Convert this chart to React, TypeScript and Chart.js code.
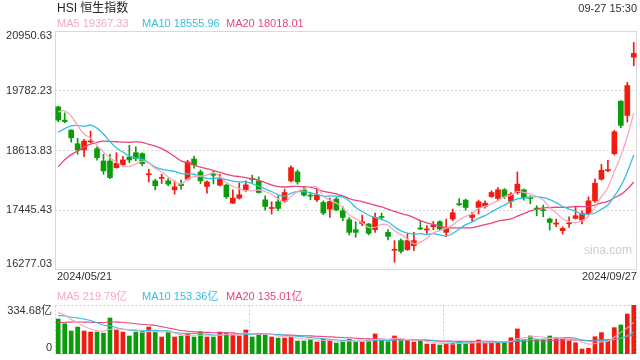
import React, { useEffect, useRef } from "react";
import { Chart, registerables } from "chart.js";

Chart.register(...registerables);

const FONT = '"Liberation Sans", Arial, "Noto Sans CJK SC", sans-serif';

const dates = [
  "2024/05/21", "2024/05/22", "2024/05/23", "2024/05/24", "2024/05/27", "2024/05/28", "2024/05/29", "2024/05/30", "2024/05/31",
  "2024/06/03", "2024/06/04", "2024/06/05", "2024/06/06", "2024/06/07", "2024/06/11", "2024/06/12", "2024/06/13", "2024/06/14",
  "2024/06/17", "2024/06/18", "2024/06/19", "2024/06/20", "2024/06/21", "2024/06/24", "2024/06/25", "2024/06/26", "2024/06/27", "2024/06/28",
  "2024/07/02", "2024/07/03", "2024/07/04", "2024/07/05", "2024/07/08", "2024/07/09", "2024/07/10", "2024/07/11", "2024/07/12",
  "2024/07/15", "2024/07/16", "2024/07/17", "2024/07/18", "2024/07/19", "2024/07/22", "2024/07/23", "2024/07/24", "2024/07/25", "2024/07/26",
  "2024/07/29", "2024/07/30", "2024/07/31", "2024/08/01", "2024/08/02", "2024/08/05", "2024/08/06", "2024/08/07", "2024/08/08", "2024/08/09",
  "2024/08/12", "2024/08/13", "2024/08/14", "2024/08/15", "2024/08/16", "2024/08/19", "2024/08/20", "2024/08/21", "2024/08/22", "2024/08/23",
  "2024/08/26", "2024/08/27", "2024/08/28", "2024/08/29", "2024/08/30", "2024/09/02", "2024/09/03", "2024/09/04", "2024/09/05",
  "2024/09/09", "2024/09/10", "2024/09/11", "2024/09/12", "2024/09/13", "2024/09/16", "2024/09/17", "2024/09/19", "2024/09/20",
  "2024/09/23", "2024/09/24", "2024/09/25", "2024/09/26", "2024/09/27",
];

const opens = [
  19467, 19208, 19013, 18746, 18624, 18780, 18649, 18409, 18409, 18279,
  18332, 18487, 18571, 18552, 18140, 18020, 18070, 18020, 17845, 17956,
  18053, 18448, 18195, 17909, 18160, 17936, 17936, 17586, 17683, 17845,
  18060, 18020, 17650, 17480, 17611, 17617, 18020, 18195, 17845, 17735,
  17650, 17597, 17469, 17664, 17436, 17260, 17066, 17188, 17177, 17066,
  17320, 17013, 16663, 16852, 16676, 16754, 17090, 17060, 17124, 17222,
  17013, 17274, 17570, 17644, 17305, 17500, 17520, 17714, 17675, 17845,
  17617, 17792, 17845, 17690, 17480, 17450, 17274, 17175, 17046, 17180,
  17286, 17254, 17383, 17630, 18053, 18220, 18552, 19578, 19299, 20440,
];
const highs = [
  19480, 19350, 19020, 18851, 18832, 18994, 18688, 18540, 18540, 18571,
  18500, 18715, 18688, 18571, 18248, 18053, 18150, 18065, 18020, 18034,
  18423, 18507, 18234, 18020, 18215, 18150, 17956, 17845, 17981, 18020,
  18131, 18098, 17728, 17611, 17728, 17858, 18312, 18234, 17909, 17792,
  17858, 17630, 17683, 17695, 17514, 17305, 17222, 17352, 17188, 17391,
  17391, 17066, 16852, 16885, 16982, 17013, 17227, 17144, 17227, 17241,
  17274, 17469, 17675, 17664, 17403, 17644, 17630, 17825, 17889, 17870,
  17792, 18195, 17858, 17728, 17533, 17547, 17293, 17274, 17124, 17319,
  17514, 17436, 17708, 18053, 18345, 18423, 19007, 19591, 19948, 20727,
];
const lows = [
  19175, 19155, 18779, 18540, 18493, 18766, 18423, 18150, 18065, 18267,
  18330, 18376, 18409, 18312, 18000, 17845, 17967, 17923, 17761, 17858,
  18034, 18267, 17967, 17780, 17960, 17923, 17675, 17572, 17664, 17806,
  17987, 17780, 17449, 17372, 17436, 17597, 18000, 17956, 17722, 17650,
  17611, 17358, 17305, 17436, 17241, 16963, 16916, 17144, 16963, 17013,
  17260, 16865, 16429, 16604, 16660, 16657, 17066, 16994, 17066, 17046,
  16930, 17241, 17533, 17449, 17227, 17372, 17488, 17695, 17630, 17675,
  17500, 17761, 17644, 17572, 17338, 17319, 17060, 17124, 16980, 17111,
  17274, 17177, 17372, 17597, 18034, 18201, 18526, 19058, 19169, 20270,
];
const closes = [
  19208, 19180, 18863, 18624, 18799, 18800, 18474, 18215, 18084, 18365,
  18429, 18429, 18454, 18357, 18160, 17923, 18090, 17956, 17903, 17928,
  18390, 18332, 18020, 18000, 18130, 18053, 17708, 17683, 17747, 17942,
  18045, 17792, 17520, 17495, 17481, 17792, 18279, 18000, 17741, 17722,
  17747, 17391, 17617, 17449, 17305, 17013, 17013, 17222, 16994, 17305,
  17305, 16935, 16676, 16643, 16852, 16852, 17079, 17070, 17157, 17079,
  17091, 17397, 17553, 17500, 17358, 17611, 17586, 17792, 17845, 17714,
  17761, 17956, 17695, 17675, 17469, 17436, 17208, 17190, 17091, 17196,
  17338, 17383, 17630, 17975, 18228, 18235, 18980, 19105, 19884, 20512,
];
// volume in 亿
const volumes = [
  239, 207, 157, 184, 157, 150, 150, 143, 246, 164,
  150, 123, 150, 157, 184, 150, 116, 150, 116, 123,
  137, 116, 150, 116, 116, 150, 143, 137, 123, 164,
  116, 137, 137, 116, 109, 109, 116, 89, 89, 100,
  82, 100, 89, 75, 83, 101, 84, 84, 96, 137,
  96, 84, 123, 91, 91, 82, 91, 68, 68, 61,
  73, 73, 84, 73, 84, 96, 73, 80, 84, 84,
  111, 171, 96, 123, 96, 96, 123, 111, 102, 89,
  77, 34, 39, 118, 146, 96, 180, 198, 273, 334.68,
];
// sessions before the first shown date (feed the moving averages)
const priorCloses = [
  16511, 16829, 17201, 17284, 17651, 17747, 17763, 18207, 18476, 18578,
  18479, 18313, 18537, 18963, 18575, 19073, 19376, 19553, 19636,
];
const priorVolumes = [
  150, 140, 160, 175, 170, 180, 165, 160, 180, 180,
  220, 250, 230, 245, 250, 300, 310, 286, 290,
];

const priceTicks = [16277.03, 17445.43, 18613.83, 19782.23, 20950.63];
const volumeTicks = [0, 334.68];
const maPeriods = [5, 10, 20];
const priceMaLabels = ["MA5 19367.33", "MA10 18555.96", "MA20 18018.01"];
const volumeMaLabels = ["MA5 219.79亿", "MA10 153.36亿", "MA20 135.01亿"];
const maColors = ["#f7a6c2", "#33c0e0", "#e8467c"];
const UP = "#f21b0f";
const DOWN = "#0a9d0a";

function movingAverage(values: number[], prior: number[], p: number): number[] {
  const all = [...prior, ...values];
  return values.map((_, i) => {
    const end = prior.length + i;
    let s = 0;
    for (let k = end - p + 1; k <= end; k++) s += all[k];
    return s / p;
  });
}

function makeFrame(dash: number[] | null, color: string, thirds: boolean) {
  return {
    id: "frame",
    beforeDatasetsDraw(chart: any) {
      const { ctx, chartArea: a } = chart;
      ctx.save();
      ctx.strokeStyle = color;
      ctx.lineWidth = 1;
      if (dash) ctx.setLineDash(dash);
      const l = Math.round(a.left) + 0.5;
      const t = Math.round(a.top) + 0.5;
      const r = Math.round(a.right) - 0.5;
      const b = Math.round(a.bottom) - 0.5;
      ctx.strokeRect(l, t, r - l, b - t);
      if (thirds) {
        for (let k = 1; k <= 2; k++) {
          const x = Math.round(a.left + (a.width * k) / 3) + 0.5;
          ctx.beginPath();
          ctx.moveTo(x, t);
          ctx.lineTo(x, b);
          ctx.stroke();
        }
      }
      ctx.restore();
    },
  };
}

function makeLabels(ticks: number[], fmt: (v: number) => string, edgeTop: number, edgeBottom: number) {
  return {
    id: "axisLabels",
    afterDraw(chart: any) {
      const { ctx, chartArea } = chart;
      const scale = chart.scales.y;
      ctx.save();
      ctx.font = `11px ${FONT}`;
      ctx.fillStyle = "#333";
      ctx.textAlign = "right";
      ctx.textBaseline = "middle";
      ticks.forEach((v, i) => {
        let y = scale.getPixelForValue(v);
        if (i === ticks.length - 1) y += edgeTop;
        else if (i === 0) y -= edgeBottom;
        ctx.fillText(fmt(v), chartArea.left - 3, y);
      });
      ctx.restore();
    },
  };
}

export default function App() {
  const mainRef = useRef<HTMLCanvasElement>(null);
  const volRef = useRef<HTMLCanvasElement>(null);

  useEffect(() => {
    const colors = closes.map((c, i) => (c >= opens[i] ? UP : DOWN));
    const priceMAs = maPeriods.map((p) => movingAverage(closes, priorCloses, p));
    const volMAs = maPeriods.map((p) => movingAverage(volumes, priorVolumes, p));

    const main = new Chart(mainRef.current as HTMLCanvasElement, {
      type: "bar",
      data: {
        labels: dates,
        datasets: [
          ...priceMAs.map((d, k) => ({
            type: "line" as const,
            data: d,
            borderColor: maColors[k],
            borderWidth: 1.3,
            pointRadius: 0,
            tension: 0.4,
            order: k,
          })),
          {
            type: "bar" as const,
            data: opens.map((o, i) => [o, closes[i]]),
            backgroundColor: colors,
            barThickness: 5,
            grouped: false,
            minBarLength: 1,
            borderWidth: 0,
            order: 10,
          },
          {
            type: "bar" as const,
            data: lows.map((l, i) => [l, highs[i]]),
            backgroundColor: colors,
            barThickness: 1,
            grouped: false,
            borderWidth: 0,
            order: 11,
          },
        ] as any,
      },
      options: {
        responsive: false,
        animation: false,
        events: [],
        layout: { padding: { left: 55, right: 3, top: 31, bottom: 10 } },
        plugins: { legend: { display: false }, tooltip: { enabled: false } },
        scales: {
          x: { display: false, offset: true },
          y: {
            min: priceTicks[0],
            max: priceTicks[priceTicks.length - 1],
            afterBuildTicks: (s: any) => {
              s.ticks = priceTicks.map((v) => ({ value: v }));
            },
            ticks: { display: false },
            grid: {
              drawTicks: false,
              lineWidth: 1,
              color: (c: any) =>
                c.tick && (c.tick.value === priceTicks[0] || c.tick.value === priceTicks[priceTicks.length - 1])
                  ? "rgba(0,0,0,0)"
                  : "#d6d6d6",
            },
            border: { display: false, dash: [2, 2] },
          },
        },
      } as any,
      plugins: [makeFrame(null, "#d9d9d9", false), makeLabels(priceTicks, (v) => v.toFixed(2), 5, 6)],
    });

    const vol = new Chart(volRef.current as HTMLCanvasElement, {
      type: "bar",
      data: {
        labels: dates,
        datasets: [
          ...volMAs.map((d, k) => ({
            type: "line" as const,
            data: d,
            borderColor: maColors[k],
            borderWidth: 1.1,
            pointRadius: 0,
            tension: 0.4,
            order: k,
          })),
          {
            type: "bar" as const,
            data: volumes,
            backgroundColor: colors,
            barThickness: 4,
            borderWidth: 0,
            order: 10,
          },
        ] as any,
      },
      options: {
        responsive: false,
        animation: false,
        events: [],
        layout: { padding: { left: 55, right: 3, top: 25, bottom: 6 } },
        plugins: { legend: { display: false }, tooltip: { enabled: false } },
        scales: {
          x: { display: false, offset: true },
          y: { display: false, min: volumeTicks[0], max: volumeTicks[1] },
        },
      } as any,
      plugins: [
        makeFrame([2, 2], "#cfcfcf", true),
        makeLabels(volumeTicks, (v) => (v === 0 ? "0" : v.toFixed(2) + "亿"), 6, 6),
      ],
    });

    return () => {
      main.destroy();
      vol.destroy();
    };
  }, []);

  const legendLeft = [57, 142, 226];
  const small: React.CSSProperties = { position: "absolute", fontSize: 11, lineHeight: "13px", whiteSpace: "nowrap" };

  return (
    <div style={{ position: "absolute", left: 0, top: 0, width: 640, height: 360, background: "#fff", fontFamily: FONT, overflow: "hidden" }}>
      <canvas ref={mainRef} width={640} height={280} style={{ position: "absolute", left: 0, top: 0 }} />
      <canvas ref={volRef} width={640} height={80} style={{ position: "absolute", left: 0, top: 280 }} />
      <div style={{ position: "absolute", left: 57, top: 1, fontSize: 12, lineHeight: "14px", color: "#222", whiteSpace: "nowrap" }}>HSI 恒生指数</div>
      <div style={{ ...small, right: 3, top: 2, color: "#333" }}>09-27 15:30</div>
      {priceMaLabels.map((t, k) => (
        <div key={"p" + k} style={{ ...small, left: legendLeft[k], top: 17, color: maColors[k] }}>{t}</div>
      ))}
      <div style={{ ...small, left: 584, top: 244, color: "#cccccc", fontSize: 12 }}>sina.com</div>
      <div style={{ ...small, left: 57, top: 270, color: "#333" }}>{dates[0]}</div>
      <div style={{ ...small, right: 3, top: 270, color: "#333" }}>{dates[dates.length - 1]}</div>
      {volumeMaLabels.map((t, k) => (
        <div key={"v" + k} style={{ ...small, left: legendLeft[k], top: 290, color: maColors[k] }}>{t}</div>
      ))}
    </div>
  );
}
